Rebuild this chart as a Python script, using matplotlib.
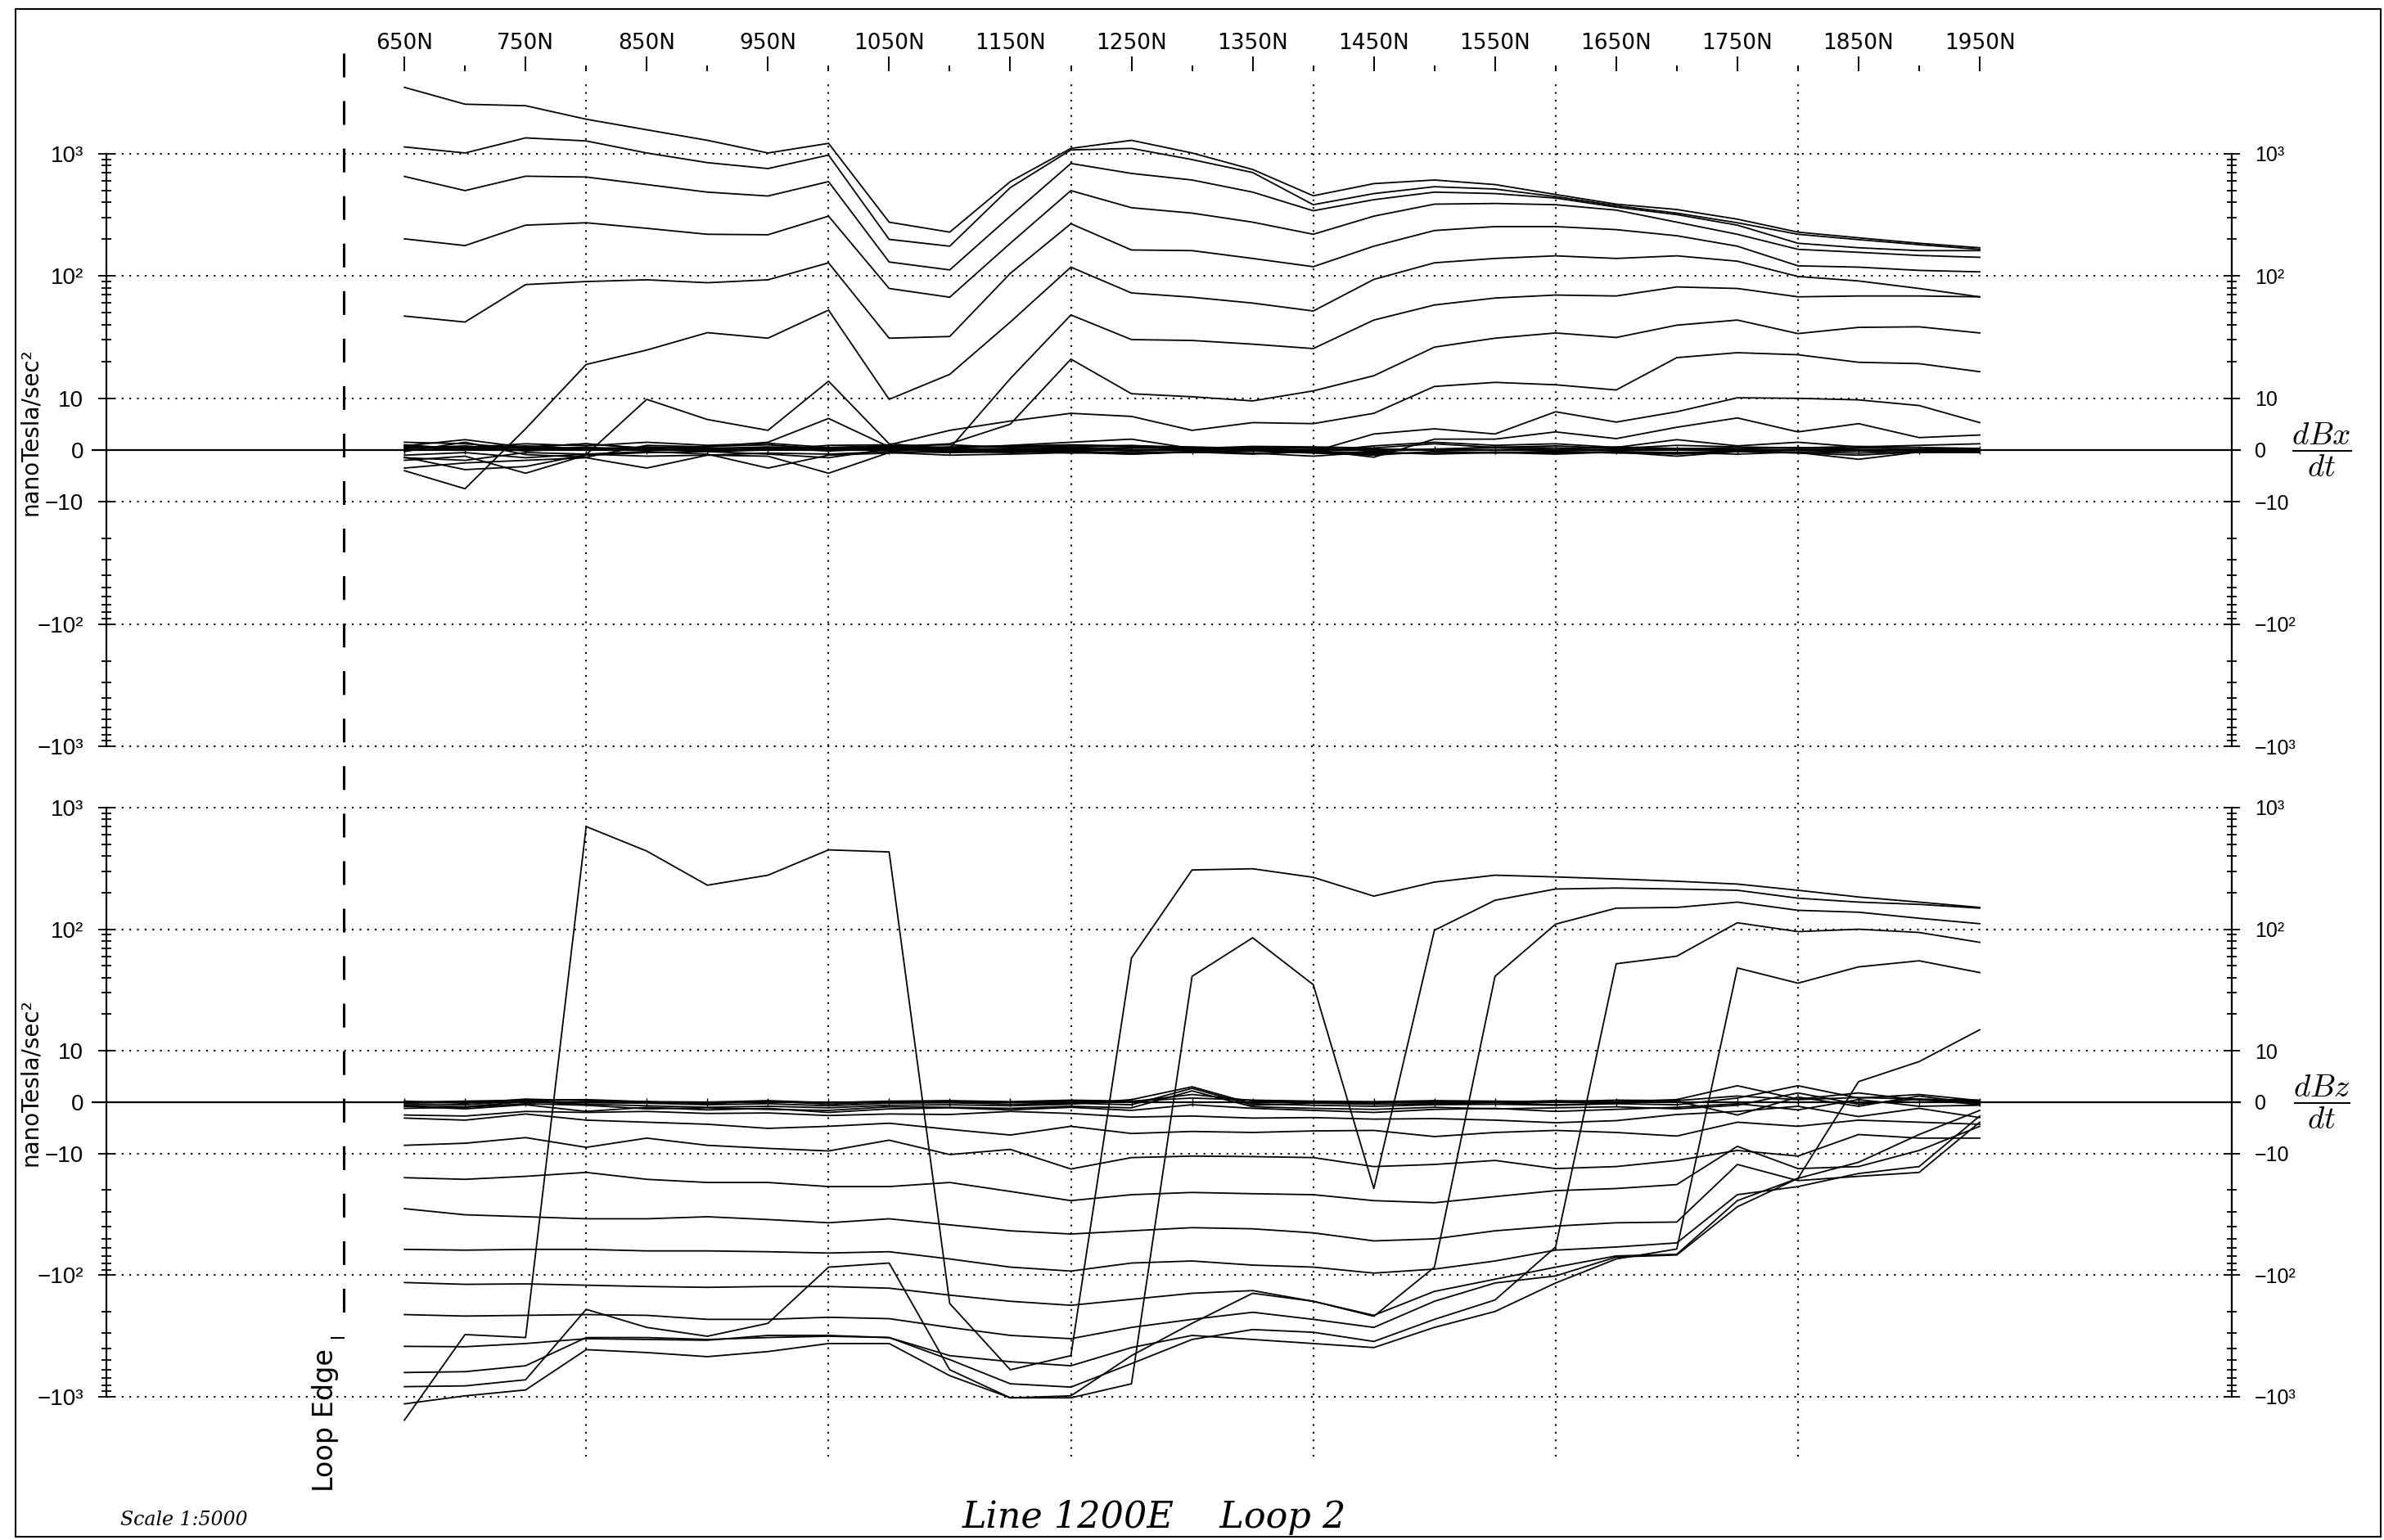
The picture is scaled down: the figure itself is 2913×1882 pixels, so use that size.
import numpy as np
import matplotlib
matplotlib.use('Agg')
import matplotlib.pyplot as plt
from matplotlib.patches import Rectangle
from matplotlib.scale import SymmetricalLogTransform

plt.rcParams['mathtext.fontset'] = 'cm'

# ---- data -------------------------------------------------------------
stations = list(range(650, 1951, 50))          # 650N ... 1950N
loop_edge = 600

# dBx/dt channels (nanoTesla/sec^2), early -> late
dbx_ch1 = [3475, 2532, 2460, 1908, 1564, 1283, 1011, 1212, 275, 228, 590, 1102, 1283, 1011, 741, 452, 568, 608, 558, 463, 386, 349, 291, 228, 205, 185, 170]
dbx_ch2 = [1133, 1011, 1343, 1268, 1011, 843, 754, 972, 199, 175, 527, 1071, 1102, 893, 700, 382, 471, 536, 513, 445, 375, 326, 272, 219, 198, 180, 165]
dbx_ch3 = [650, 498, 653, 643, 558, 484, 450, 590, 130, 112, 308, 830, 688, 608, 484, 341, 420, 484, 471, 433, 365, 317, 260, 185, 170, 161, 161]
dbx_ch4 = [201, 177, 260, 272, 245, 219, 217, 308, 79, 67, 185, 498, 361, 326, 275, 219, 308, 386, 391, 382, 345, 275, 219, 165, 156, 147, 142]
dbx_ch5 = [47, 42, 85, 90, 93, 88, 93, 128, 31, 32, 105, 267, 163, 161, 139, 119, 175, 235, 253, 253, 239, 213, 175, 121, 118, 111, 108]
dbx_ch6 = [-4.0, -7.5, 4.1, 18.9, 24.8, 34.4, 31, 52.6, 9.8, 15.7, 42, 118, 72.6, 67, 60, 51.7, 93.7, 128, 139, 146, 139, 146, 132, 99, 91, 79, 67.5]
dbx_ch7 = [-1.4, -3.8, -3.2, -0.9, 9.8, 5.9, 3.8, 13.8, 1.2, 0.3, 14.5, 48, 30.2, 29.7, 27.7, 25.5, 43.6, 57.9, 66, 69.8, 68.6, 81.3, 79, 67.5, 68.6, 68.6, 67.5]
dbx_ch8 = [-0.3, 1.5, -0.9, -1.4, 0.9, 0.6, 1.5, 6.1, 0.6, 1.2, 5.0, 20.9, 10.9, 10.3, 9.5, 11.5, 15.3, 26.2, 31, 34.2, 31.4, 39.6, 43.6, 33.8, 38, 38.4, 34.2]
dbx_ch9 = [0.6, 0, 0.6, 1.2, 0.3, -0.3, 0, 0.9, 1.0, 3.8, 5.6, 7.1, 6.5, 3.8, 5.3, 5.1, 7.1, 12.5, 13.5, 12.9, 11.7, 21.5, 23.6, 22.7, 19.7, 19.2, 16.5]
dbx_ch10 = [0.3, 0.8, -0.2, 0.4, 0, 0.3, 0.6, 0.4, 0.8, 0.3, 0.9, 1.5, 2.1, 0.3, 0, -0.3, 3.1, 4.1, 3.1, 7.4, 5.4, 7.4, 10.1, 10, 9.7, 8.6, 5.3]
dbx_ch11 = [0.8, 0.4, 0.3, 0.2, 0.6, 0.4, 0.3, 0.2, 0.4, 0.6, 0.8, 1.0, 0.8, 0.6, 0.3, 0, -1.4, 2.1, 2.1, 3.5, 2.2, 4.4, 6.2, 3.5, 5.1, 2.4, 2.9]
dbx_ch12 = [1.5, 1.2, 0.3, 0.5, 0.2, -0.3, 0.4, -0.2, 0.3, 0.1, 0.2, 0.4, 0.1, -0.2, 0.3, 0.5, -0.3, 0.2, 0.4, 0.1, 0.6, 0.3, 0.2, 0.5, 0.1, -0.2, 0.3]
dbx_ch13 = [-1.0, -0.5, -1.5, -0.8, -1.2, -1.0, -0.6, -0.8, -0.3, -0.5, -0.4, -0.2, -0.6, -0.4, -0.8, -0.3, -0.5, -0.7, -0.4, -0.6, -0.3, -0.5, -0.2, -0.4, -0.6, -0.3, -0.2]
dbx_ch14 = [0.8, 2.0, 0.5, 1.2, 0.3, 0.7, 1.0, 0.2, 0.6, 0.4, 0.8, 0.5, 0.9, 0.3, 0.7, 0.6, 0.4, 1.2, 0.5, 0.8, 0.3, 0.9, 0.6, 0.4, 0.7, 0.5, 0.3]
dbx_ch15 = [-2.0, -1.2, -4.5, -1.0, -0.5, -0.3, -0.8, -1.5, 0.2, -0.4, -0.2, -0.6, -0.3, -0.5, -0.2, -0.6, -1.0, -0.3, -0.5, -0.8, -0.4, -1.2, -0.3, -0.5, -1.8, -0.4, -0.3]
dbx_ch16 = [-3.5, -2.5, -2.0, -1.5, -3.5, -1.0, -1.2, -4.5, -0.5, -1.0, -0.8, -0.5, -0.8, -0.3, -0.6, -1.2, -0.4, -0.8, -0.5, -0.3, -0.6, -0.5, -0.8, -0.4, -0.2, -0.5, -0.4]
dbx_ch17 = [0.3, 0.5, 1.2, 0.8, 1.5, 0.9, 1.3, 0.5, 0.8, 1.0, 0.5, 0.8, 0.6, 0.3, 0.4, -0.3, 0.8, 1.5, 0.9, 1.2, 0.5, 2.0, 0.8, 1.5, 0.6, 0.9, 1.2]
dbx_ch18 = [-1.5, -2.0, -0.5, -0.8, -0.3, -0.8, -3.5, -1.0, -0.6, -0.2, -0.5, -0.3, -0.8, -0.4, -0.2, -0.5, -0.8, -0.4, -0.6, -0.3, -0.5, -0.8, -0.3, -0.6, -1.0, -0.4, -0.5]
dbx_ch19 = [1.0, 0.2, 0.8, 0.2, 0.5, 0.2, 0.5, 0.0, 0.3, 0.2, 0.3, 0.2, 0.4, 0.2, 0.5, 0.3, 0.2, 0.1, 0.6, 0.4, 0.3, 0.2, 0.5, 0.3, 0.4, 0.2, 0.3]

# dBz/dt channels (nanoTesla/sec^2)
dbz_ch1 = [-1557, -308, -326, 698, 439, 230, 278, 449, 432, -171, -600, -459, 58, 307, 314, 267, 187, 244, 278, 269, 259, 248, 235, 209, 184, 167, 151]
dbz_ch2 = [-1144, -983, -879, -410, -433, -468, -425, -365, -365, -671, -1020, -1020, -782, 41, 85, 35, -19.4, 98, 173, 214, 218, 214, 209, 180, 167, 160, 149]
dbz_ch3 = [-826, -814, -725, -191, -269, -318, -249, -86, -79.5, -600, -1020, -983, -459, -249, -141, -164, -218, -86, 41, 110, 149, 151, 167, 143, 138, 123, 111]
dbz_ch4 = [-632, -622, -556, -326, -326, -338, -326, -318, -326, -495, -782, -833, -534, -338, -280, -295, -351, -231, -160, -58.7, 52, 60, 113, 95.5, 100, 94, 78]
dbz_ch5 = [-385, -388, -365, -333, -338, -343, -313, -313, -326, -459, -515, -556, -394, -313, -338, -365, -394, -269, -199, -116, -73.6, -61, 48, 36, 49, 55, 44]
dbz_ch6 = [-211, -217, -214, -211, -214, -231, -231, -222, -228, -269, -313, -333, -269, -231, -202, -231, -269, -164, -116, -101.5, -71, -68.3, -27.4, -16, 4.0, 7.9, 14.9]
dbz_ch7 = [-115, -119, -118, -121, -124, -126, -124, -124, -128, -146, -164, -177, -158, -141, -134, -164, -214, -136, -108, -86, -69.5, -67.4, -24.4, -16, -11.8, -6.3, -1.6]
dbz_ch8 = [-61.4, -62.3, -61.4, -61.4, -63.2, -63.2, -64.2, -65.8, -64.2, -73.6, -85.9, -92.6, -79.5, -76.5, -82.7, -85.9, -96.2, -89.2, -76.5, -62.3, -58.7, -54.3, -21.8, -18.7, -14.6, -12.8, -2.7]
dbz_ch9 = [-28.4, -31.9, -33.1, -34.4, -34.4, -33.1, -34.9, -37.1, -34.4, -38.6, -43.2, -45.9, -43.2, -40.7, -41.6, -44.9, -52.3, -50.3, -43.2, -39.5, -37.1, -36.6, -12.3, -16.7, -15.4, -14.3, -3.9]
dbz_ch10 = [-15.8, -16.3, -15.4, -14.3, -16.3, -17.3, -17.3, -18.7, -18.7, -17.3, -20.5, -24.4, -21.8, -20.9, -21.4, -21.8, -24.4, -25.4, -22.6, -20.2, -19.4, -18.0, -8.6, -13.3, -12.8, -9.4, -4.7]
dbz_ch11 = [-8.4, -8.0, -6.9, -8.8, -7.0, -8.4, -9.0, -9.5, -7.4, -10.2, -9.2, -13.4, -10.8, -10.5, -10.6, -10.8, -12.8, -12.3, -11.4, -13.3, -12.8, -11.4, -9.4, -10.5, -6.3, -7.0, -7.0]
dbz_ch12 = [-3.1, -3.5, -2.3, -3.5, -3.9, -4.3, -5.1, -4.7, -4.1, -5.3, -6.4, -4.7, -6.1, -5.7, -5.9, -5.6, -5.5, -6.7, -5.9, -5.5, -5.9, -6.6, -3.9, -4.7, -3.5, -3.9, -4.3]
dbz_ch13 = [-2.5, -2.7, -1.8, -2.0, -1.8, -2.2, -2.1, -2.6, -2.3, -2.4, -1.8, -2.2, -2.9, -2.7, -3.1, -3.0, -3.3, -3.2, -3.5, -4.0, -3.6, -2.4, -1.8, -0.8, -2.8, -1.2, -3.0]
dbz_ch14 = [-0.6, -0.9, 0.1, -0.4, -0.7, -1.0, -0.8, -1.1, -0.6, -0.5, -0.7, -0.4, 0.5, 3.0, -0.3, -0.6, -0.8, -0.5, -0.4, -0.6, -0.3, -0.5, 0.8, 3.2, 0.8, 1.5, 0.3]
dbz_ch15 = [-1.2, -1.0, -0.3, -0.6, -1.3, -1.1, -1.4, -1.6, -0.9, -1.0, -1.2, -0.8, -1.1, 2.2, -0.9, -1.2, -1.4, -1.0, -1.3, -1.1, -0.9, -1.3, -0.6, 1.8, -0.4, 0.6, -0.5]
dbz_ch16 = [0.2, -0.2, 0.6, 0.3, 0.1, -0.3, 0.2, -0.4, 0.1, 0.2, 0.0, 0.3, 0.1, 1.5, 0.3, 0.1, -0.2, 0.2, 0.0, 0.3, 0.1, 0.5, 3.2, 0.6, 1.8, 0.4, 0.2]
dbz_ch17 = [-0.3, -0.5, 0.3, -0.1, -0.2, -0.5, -0.3, -0.7, -0.2, -0.1, -0.4, -0.2, -0.5, 2.7, -0.6, -0.2, -0.4, -0.3, -0.1, -0.5, -0.2, 0.2, -2.5, 1.0, -0.8, 1.2, -0.3]
dbz_ch18 = [0.0, 0.2, 0.4, 0.5, 0.1, 0.0, 0.3, -0.1, 0.2, 0.3, 0.1, 0.4, 0.2, 0.8, 0.4, 0.2, 0.1, 0.3, 0.2, 0.1, 0.4, 0.3, 1.2, 0.5, 0.9, 0.6, 0.4]
dbz_ch19 = [-0.8, -1.3, -0.5, -1.8, -1.0, -1.5, -1.2, -2.0, -1.3, -1.1, -1.5, -1.0, -1.6, -0.5, -1.2, -1.6, -2.0, -1.4, -1.2, -1.8, -1.4, -1.0, -0.3, -1.5, 0.5, -0.8, -0.6]

dbx = [dbx_ch1, dbx_ch2, dbx_ch3, dbx_ch4, dbx_ch5, dbx_ch6, dbx_ch7, dbx_ch8, dbx_ch9, dbx_ch10,
       dbx_ch11, dbx_ch12, dbx_ch13, dbx_ch14, dbx_ch15, dbx_ch16, dbx_ch17, dbx_ch18, dbx_ch19]
dbz = [dbz_ch1, dbz_ch2, dbz_ch3, dbz_ch4, dbz_ch5, dbz_ch6, dbz_ch7, dbz_ch8, dbz_ch9, dbz_ch10,
       dbz_ch11, dbz_ch12, dbz_ch13, dbz_ch14, dbz_ch15, dbz_ch16, dbz_ch17, dbz_ch18, dbz_ch19]

major_x = list(range(650, 1951, 100))
minor_x = list(range(700, 1901, 100))
grid_x = [800, 1000, 1200, 1400, 1600, 1800]
major_y = [-1000, -100, -10, 0, 10, 100, 1000]
major_ylab = ['\u221210\u00b3', '\u221210\u00b2', '\u221210', '0', '10', '10\u00b2', '10\u00b3']
minor_y = [s * m * d for s in (-1, 1) for d in (10, 100) for m in range(2, 10)]
grid_y = [-1000, -100, -10, 10, 100, 1000]

# ---- layout (sheet measured on a 1568 x 1013 grid) ---------------------
W, H = 1568.0, 1013.0
fx = lambda px: px / W
fy = lambda py: 1 - py / H
X650, PXM = 266.0, 0.797
xlim = (650 - X650 / PXM, 650 + (W - X650) / PXM)
xs = lambda px: 650 + (px - X650) / PXM
LINSCALE = 0.38
inv = SymmetricalLogTransform(10, 10, LINSCALE).inverted()
tval = lambda t: inv.transform(np.array([[t]]))[0, 0]

fig = plt.figure(figsize=(29.13, 18.82), dpi=100)

panels = [
    # (data, top px, bottom px, zero px, px per decade)
    (dbx, 47, 511, 296, 80.5),
    (dbz, 511, 960, 725, 80.0),
]
axes = []
for data, top, bot, zero, dec in panels:
    ax = fig.add_axes([0, fy(bot), 1, fy(top) - fy(bot)])
    ax.patch.set_visible(False)
    ax.set_yscale('symlog', linthresh=10, linscale=LINSCALE)
    ax.set_xlim(xlim)
    ppt = dec / 10.0
    ax.set_ylim(tval(-(bot - zero) / ppt), tval((zero - top) / ppt))

    for s in ['top', 'bottom']:
        ax.spines[s].set_visible(False)
    ax.spines['left'].set_position(('data', xs(70)))
    ax.spines['right'].set_position(('data', xs(1468)))
    for s in ['left', 'right']:
        ax.spines[s].set_bounds(-1000, 1000)
        ax.spines[s].set_linewidth(1.6)

    ax.set_yticks(major_y, major_ylab)
    ax.set_yticks(minor_y, minor=True)
    ax.tick_params(axis='y', which='both', left=True, right=True, labelleft=True, labelright=True,
                   direction='inout', width=1.3)
    ax.tick_params(axis='y', which='major', length=14, pad=13, labelsize=20,
                   labelfontfamily='Liberation Sans')
    ax.tick_params(axis='y', which='minor', length=8)
    for t in ax.yaxis.get_major_ticks():
        t.label2.set_fontsize(18)

    # dotted grid
    for g in grid_y:
        ax.plot([xs(70), xs(1468)], [g, g], color='k', lw=1.5, ls=(0, (1, 3.5)))
    for g in grid_x:
        if top == 47:
            ax.axvline(g, 0, 1 - 5.0 / (bot - top), color='k', lw=1.5, ls=(0, (1, 3.5)))
        else:
            ax.axvline(g, 2.0 / (bot - top), 1, color='k', lw=1.5, ls=(0, (1, 3.5)))
    ax.plot([xs(61), xs(1473)], [0, 0], color='k', lw=1.6)
    ax.plot(stations, [0] * len(stations), ls='none', marker='|', ms=7, mew=1.0, color='k')

    for ch in data:
        ax.plot(stations, ch, color='k', lw=1.3)
    axes.append(ax)

ax1, ax2 = axes
ax1.xaxis.tick_top()
ax1.set_xticks(major_x, [f'{s}N' for s in major_x])
ax1.set_xticks(minor_x, minor=True)
ax1.tick_params(axis='x', which='major', direction='out', length=13, width=1.4, pad=2,
                labelsize=19, labelfontfamily=['Liberation Sans Narrow', 'DejaVu Sans'])
ax1.tick_params(axis='x', which='minor', direction='out', length=5, width=1.4)
ax2.tick_params(axis='x', which='both', bottom=False, top=False, labelbottom=False)

# overlay for loop edge and sheet frame
ov = fig.add_axes([0, 0, 1, 1])
ov.patch.set_visible(False)
ov.set_xlim(xlim)
ov.set_ylim(0, 1)
ov.axis('off')
ov.plot([loop_edge, loop_edge], [fy(35), fy(878)], color='k', lw=2.2, dashes=(9.5, 9.5))
ov.plot([loop_edge - 10, loop_edge], [fy(880), fy(880)], color='k', lw=1.5)
fig.add_artist(Rectangle((fx(10), fy(1011)), fx(1566) - fx(10), fy(6) - fy(1011),
                         transform=fig.transFigure, fill=False, lw=1.5, color='k'))

fig.text(fx(214), fy(934), 'Loop Edge', rotation=90, ha='center', va='center', fontsize=24)
for yc in (284, 712):
    fig.text(fx(20), fy(yc), 'nanoTesla/sec\u00b2', rotation=90, ha='center', va='center', fontsize=20)
fig.text(fx(1527), fy(296), r'$\dfrac{dBx}{dt}$', ha='center', va='center', fontsize=28)
fig.text(fx(1527), fy(725), r'$\dfrac{dBz}{dt}$', ha='center', va='center', fontsize=28)
fig.text(fx(759), fy(998), 'Line 1200E    Loop 2', ha='center', va='center', fontsize=32,
         family='DejaVu Serif', style='italic')
fig.text(fx(121), fy(1000), 'Scale 1:5000', ha='center', va='center', fontsize=17,
         family='DejaVu Serif', style='italic')

fig.savefig('out.png', dpi=100)
